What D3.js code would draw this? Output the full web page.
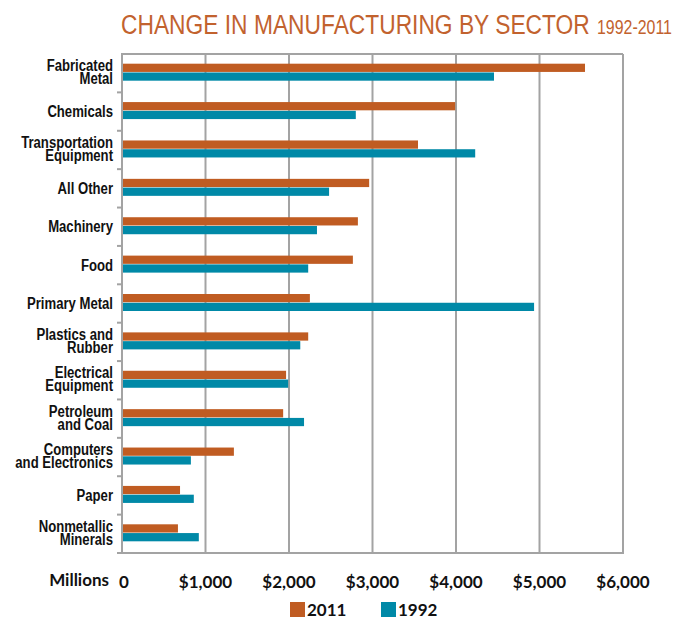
<!DOCTYPE html>
<html lang="en">
<head>
<meta charset="utf-8">
<script src="https://d3js.org/d3.v7.min.js"></script>
<style>
  body { margin: 0; background: #fff; }
  .cat { font-family: "Liberation Sans", Arial, sans-serif; font-weight: bold; font-size: 16px; fill: #111; }
  .tick-lbl { font-family: Lato, "DejaVu Sans", sans-serif; font-weight: bold; font-size: 17px; fill: #111; }
  .ttl { font-family: "Liberation Sans", Arial, sans-serif; fill: #c2622e; }
</style>
</head>
<body>
<svg id="chart" width="689" height="619"></svg>
<script>
// sectors, top to bottom (label lines)
let sectors = ["Fabricated Metal", "Chemicals", "Transportation Equipment", "All Other", "Machinery", "Food",
  "Primary Metal", "Plastics and Rubber", "Electrical Equipment", "Petroleum and Coal",
  "Computers and Electronics", "Paper", "Nonmetallic Minerals"]
let labelLines = [["Fabricated", "Metal"], ["Chemicals"], ["Transportation", "Equipment"], ["All Other"], ["Machinery"], ["Food"],
  ["Primary Metal"], ["Plastics and", "Rubber"], ["Electrical", "Equipment"], ["Petroleum", "and Coal"],
  ["Computers", "and Electronics"], ["Paper"], ["Nonmetallic", "Minerals"]]
// millions of dollars
let values2011 = [5545, 3990, 3545, 2960, 2825, 2765, 2250, 2230, 1965, 1930, 1340, 695, 670]
let values1992 = [4455, 2800, 4230, 2480, 2335, 2230, 4935, 2135, 1990, 2180, 825, 860, 920]
let years = ["2011", "1992"]
let colors = ["#c05c22", "#0089a7"]
let xTicks = [0, 1000, 2000, 3000, 4000, 5000, 6000]

let svg = d3.select("#chart")
let mLeft = 122, mRight = 623, mTop = 54, mBottom = 553

let x = d3.scaleLinear().domain([0, 6000]).range([mLeft, mRight])
let y = d3.scaleBand().domain(sectors).range([mTop, mBottom])
let bw = y.bandwidth()
let ySub = d3.scaleBand().domain(years).range([bw / 2 - 9.5, bw / 2 + 7.5]).paddingInner(0.06)

// title, squeezed horizontally to the reference width
function squeezed(txt, size, x0, width) {
  let g = svg.append("g")
  let t = g.append("text").attr("class", "ttl").style("font-size", size + "px").attr("y", 34).text(txt)
  let w = t.node().getComputedTextLength()
  g.attr("transform", `translate(${x0},0) scale(${width / w},1)`)
}
squeezed("CHANGE IN MANUFACTURING BY SECTOR", 28, 121, 469)
squeezed("1992-2011", 21, 597, 75)

// gridlines
svg.append("g").selectAll("line").data(xTicks.slice(1)).enter().append("line")
  .attr("x1", d => x(d)).attr("x2", d => x(d)).attr("y1", mTop).attr("y2", mBottom)
  .attr("stroke", "#a3a3a3").attr("stroke-width", 2)

// frame
svg.append("line").attr("x1", mLeft).attr("x2", mRight).attr("y1", mTop).attr("y2", mTop).attr("stroke", "#a3a3a3").attr("stroke-width", 2)
svg.append("line").attr("x1", mLeft - 5).attr("x2", mRight + 1).attr("y1", mBottom).attr("y2", mBottom).attr("stroke", "#a3a3a3").attr("stroke-width", 2)
svg.append("line").attr("x1", mLeft).attr("x2", mLeft).attr("y1", mTop - 1).attr("y2", mBottom).attr("stroke", "#a3a3a3").attr("stroke-width", 2)

// left ticks between bands
svg.append("g").selectAll("line").data(sectors.slice(1)).enter().append("line")
  .attr("x1", mLeft - 5).attr("x2", mLeft).attr("y1", d => y(d)).attr("y2", d => y(d))
  .attr("stroke", "#a3a3a3").attr("stroke-width", 2)

// bars
let rows = sectors.map((s, i) => ({ sector: s, vals: [values2011[i], values1992[i]] }))
let grp = svg.append("g").selectAll("g").data(rows).enter().append("g")
  .attr("transform", d => `translate(0,${y(d.sector)})`)
grp.selectAll("rect").data(d => d.vals.map((v, j) => ({ year: years[j], v: v, c: colors[j] }))).enter().append("rect")
  .attr("x", x(0) + 1).attr("y", d => ySub(d.year)).attr("height", ySub.bandwidth())
  .attr("width", d => x(d.v) - x(0) - 1).attr("fill", d => d.c)

// category labels (narrowed horizontally like a condensed face)
let lbl = svg.append("g").attr("transform", "translate(113,0) scale(0.82,1)")
  .selectAll("text").data(sectors).enter().append("text")
  .attr("class", "cat").attr("text-anchor", "end").attr("x", 0)
  .attr("y", (d, i) => y(d) + bw / 2 + (labelLines[i].length > 1 ? -2 : 5.5))
lbl.selectAll("tspan").data((d, i) => labelLines[i]).enter().append("tspan")
  .attr("x", 0).attr("dy", (d, j) => j ? 13 : 0).text(d => d)

// x tick labels
svg.append("g").selectAll("text").data(xTicks).enter().append("text")
  .attr("class", "tick-lbl").attr("text-anchor", "middle")
  .attr("x", d => x(d) + (d ? 0 : 2)).attr("y", 588)
  .text(d => d ? "$" + d3.format(",")(d) : "0")
svg.append("text").attr("class", "tick-lbl").attr("text-anchor", "end").attr("x", 109).attr("y", 586).text("Millions")

// legend
let leg = svg.append("g").selectAll("g").data(years).enter().append("g")
  .attr("transform", (d, i) => `translate(${i ? 381 : 290},602)`)
leg.append("rect").attr("width", 15).attr("height", 15).attr("fill", (d, i) => colors[i])
leg.append("text").attr("class", "tick-lbl").attr("x", 17).attr("y", 14).text(d => d)
</script>
</body>
</html>
